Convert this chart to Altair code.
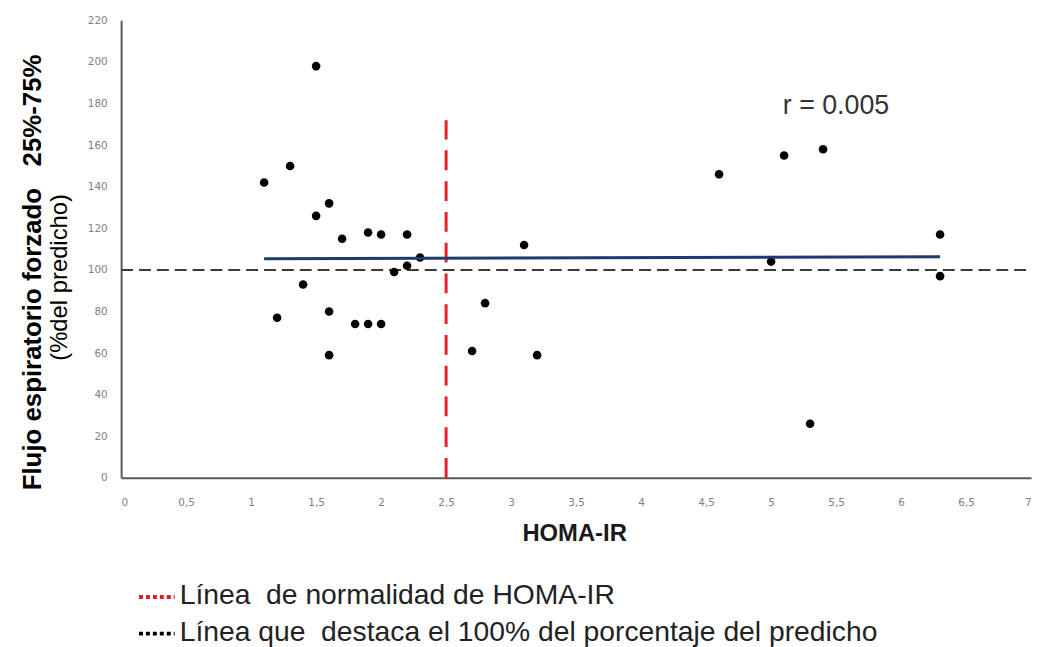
import altair as alt
import pandas as pd

# Data
homa = [1.5, 1.3, 1.1, 1.6, 1.5, 1.7, 1.9, 2.0, 2.2, 2.3, 2.2, 2.1, 1.4, 1.6, 1.2,
        1.8, 1.9, 2.0, 1.6, 4.6, 3.1, 2.8, 2.7, 3.2, 5.1, 5.4, 6.3, 6.3, 5.0, 5.3]
fef = [198, 150, 142, 132, 126, 115, 118, 117, 117, 106, 102, 99, 93, 80, 77,
       74, 74, 74, 59, 146, 112, 84, 61, 59, 155, 158, 117, 97, 104, 26]

reg_x = [1.1, 6.3]
reg_y = [105.4, 106.3]

normal_homa = 2.5
normal_top = 172
ref_pct = 100

x_ticks = [0, 0.5, 1, 1.5, 2, 2.5, 3, 3.5, 4, 4.5, 5, 5.5, 6, 6.5, 7]
y_ticks = [0, 20, 40, 60, 80, 100, 120, 140, 160, 180, 200, 220]

NB = "\u00a0"
r_label = "r = 0.005"
y_title_1 = "Flujo espiratorio forzado" + NB * 3 + "25%-75%"
y_title_2 = "(%del predicho)"
x_title = "HOMA-IR"
legend_1 = "Línea" + NB * 2 + "de normalidad de HOMA-IR"
legend_2 = "Línea que" + NB * 2 + "destaca el 100% del porcentaje del predicho"

W, H = 917, 461

pts = pd.DataFrame({"x": homa, "y": fef})
reg = pd.DataFrame({"x": reg_x, "y": reg_y})
one = pd.DataFrame({"a": [0]})

xscale = alt.Scale(domain=[0, 7], nice=False)
yscale = alt.Scale(domain=[0, 220], nice=False)

axis_common = dict(grid=False, ticks=False, domainColor="#595959", domainWidth=2,
                   labelColor="#808080", labelFont="DejaVu Sans", labelFontSize=10.5)

points = alt.Chart(pts).mark_circle(size=75, color="black", opacity=1).encode(
    x=alt.X("x:Q", scale=xscale,
            axis=alt.Axis(values=x_ticks, format=".1~f", title=None,
                          labelExpr="replace(datum.label, '.', ',')",
                          labelPadding=20, **axis_common)),
    y=alt.Y("y:Q", scale=yscale,
            axis=alt.Axis(values=y_ticks, title=None, labelPadding=14,
                          **axis_common)),
)

hline = alt.Chart(one).mark_rule(color="#3a3a3a", strokeWidth=2, strokeDash=[12, 6]).encode(
    y=alt.datum(ref_pct, type="quantitative", scale=yscale),
    x=alt.value(0), x2=alt.value(W),
)

vline = alt.Chart(one).mark_rule(color="#e8202a", strokeWidth=3, strokeDash=[20, 11]).encode(
    x=alt.datum(normal_homa, type="quantitative", scale=xscale),
    y=alt.datum(0, type="quantitative", scale=yscale),
    y2=alt.datum(normal_top),
)

regline = alt.Chart(reg).mark_line(color="#1f3a6e", strokeWidth=3).encode(
    x=alt.X("x:Q", scale=xscale), y=alt.Y("y:Q", scale=yscale)
)

rtext = alt.Chart(one).mark_text(align="left", baseline="middle", fontSize=27,
                                 font="Liberation Sans", color="#333333").encode(
    x=alt.datum(5.09, type="quantitative", scale=xscale),
    y=alt.datum(179, type="quantitative", scale=yscale),
    text=alt.value(r_label),
)

yt1 = alt.Chart(one).mark_text(angle=270, fontSize=26, fontWeight="bold",
                               font="Liberation Sans", color="black",
                               align="center", baseline="middle").encode(
    x=alt.value(-89), y=alt.value(254), text=alt.value(y_title_1))
yt2 = alt.Chart(one).mark_text(angle=270, fontSize=24,
                               font="Liberation Sans", color="black",
                               align="center", baseline="middle").encode(
    x=alt.value(-62), y=alt.value(259), text=alt.value(y_title_2))
xt = alt.Chart(one).mark_text(fontSize=24, fontWeight="bold",
                              font="Liberation Sans", color="#1a1a1a",
                              align="center", baseline="middle").encode(
    x=alt.value(457), y=alt.value(518), text=alt.value(x_title))

leg_dot1 = alt.Chart(one).mark_rule(color="#d9202a", strokeWidth=4, strokeDash=[4, 3]).encode(
    x=alt.value(18), x2=alt.value(54), y=alt.value(581))
leg_dot2 = alt.Chart(one).mark_rule(color="black", strokeWidth=4, strokeDash=[4, 3]).encode(
    x=alt.value(18), x2=alt.value(54), y=alt.value(618))
leg_t1 = alt.Chart(one).mark_text(fontSize=28.5, font="Liberation Sans", color="#222222",
                                  align="left", baseline="middle").encode(
    x=alt.value(59), y=alt.value(579), text=alt.value(legend_1))
leg_t2 = alt.Chart(one).mark_text(fontSize=28.5, font="Liberation Sans", color="#222222",
                                  align="left", baseline="middle").encode(
    x=alt.value(59), y=alt.value(616), text=alt.value(legend_2))

chart = alt.layer(
    hline, vline, points, regline, rtext, yt1, yt2, xt,
    leg_dot1, leg_dot2, leg_t1, leg_t2
).properties(
    width=W, height=H,
    autosize=alt.AutoSizeParams(type="none"),
    padding={"left": 114, "top": 10, "right": 10, "bottom": 168},
).configure_view(stroke=None)

chart.save("out.html", embed_options={"renderer": "svg", "actions": False})
